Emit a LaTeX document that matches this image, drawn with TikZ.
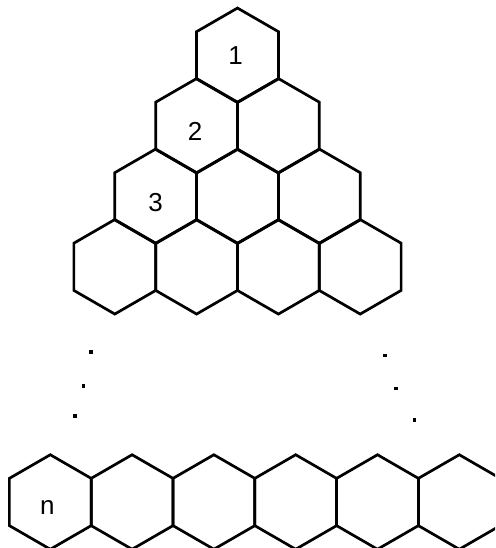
\documentclass[tikz,border=0pt]{standalone}
\usepackage{fontspec}
\setmainfont{Liberation Sans}
\usetikzlibrary{shapes.geometric}

\begin{document}
\begin{tikzpicture}[x=1pt, y=-1pt,
    hex/.style={regular polygon, regular polygon sides=6, shape border rotate=30, draw, line width=2.7pt, inner sep=0pt, minimum size=94.5pt},
    lbl/.style={inner sep=0pt, font=\fontsize{26}{26}\selectfont},
    pt/.style={rectangle, fill, inner sep=0pt, minimum size=3.4pt},
  ]
  \useasboundingbox (0,0) rectangle (495,548);
  \clip (0,0) rectangle (495,548);
  % triangle of cells
  \foreach \k in {1,...,4}
    \foreach \j in {1,...,\k}
      \node[hex] (h\k\j) at ({237.5+(\j-(\k+1)/2)*81.8}, {55.3+(\k-1)*70.5}) {};
  % last row
  \foreach \i in {1,...,6}
    \node[hex] (b\i) at ({50.3+(\i-1)*81.8}, 502) {};
  \node[lbl] (l1) at ([xshift=-2pt]h11.center) {1};
  \node[lbl] (l2) at ([xshift=-1.5pt, yshift=-6pt]h21.center) {2};
  \node[lbl] (l3) at ([yshift=-6pt]h31.center) {3};
  \node[lbl] (ln) at ([xshift=-3pt, yshift=-5pt]b1.center) {n};
  % dots
  \node[pt] (d1) at (91,352) {};
  \node[pt] (d2) at (83.7,386) {};
  \node[pt] (d3) at (75,416) {};
  \node[pt] (d4) at (385,355.3) {};
  \node[pt] (d5) at (396,388.3) {};
  \node[pt] (d6) at (414.3,420) {};
\end{tikzpicture}
\end{document}
